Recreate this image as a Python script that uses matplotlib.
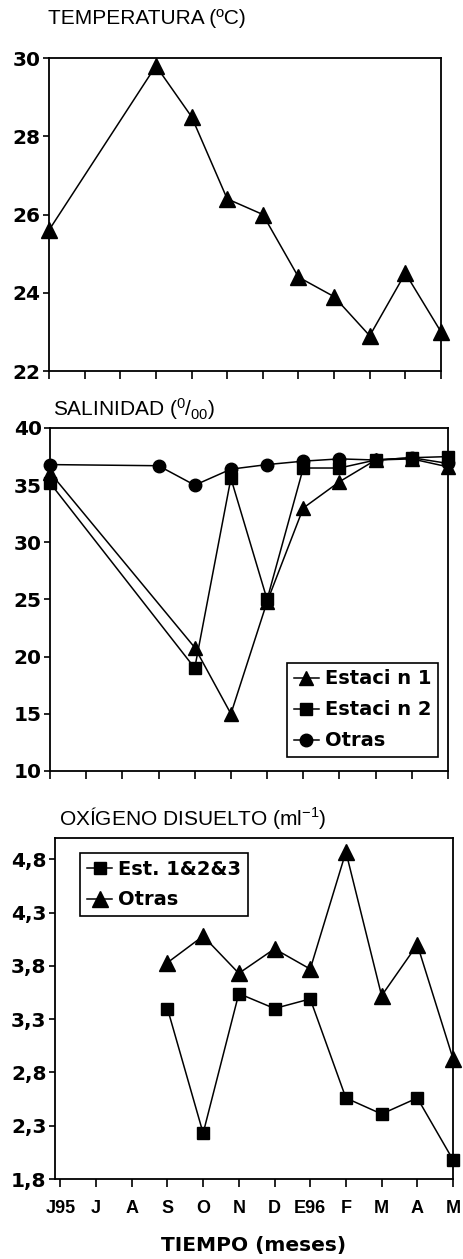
import matplotlib
matplotlib.use('Agg')
import matplotlib.pyplot as plt
from matplotlib import font_manager

months = ['J95', 'J', 'A', 'S', 'O', 'N', 'D', 'E96', 'F', 'M', 'A', 'M']

# temperatura
temp_x = [0, 3, 4, 5, 6, 7, 8, 9, 10, 11]
temp = [25.6, 29.8, 28.5, 26.4, 26.0, 24.4, 23.9, 22.9, 24.5, 23.0]
temp_ticks = [22, 24, 26, 28, 30]

# salinidad
sal_x = [0, 4, 5, 6, 7, 8, 9, 10, 11]
sal_est1 = [36.1, 20.8, 15.0, 24.8, 33.0, 35.3, 37.2, 37.3, 36.6]
sal_est2 = [35.2, 19.0, 35.6, 25.0, 36.5, 36.5, 37.2, 37.4, 37.5]
sal_otras_x = [0, 3, 4, 5, 6, 7, 8, 9, 10, 11]
sal_otras = [36.8, 36.7, 35.0, 36.4, 36.8, 37.1, 37.3, 37.2, 37.4, 36.9]
sal_ticks = [10, 15, 20, 25, 30, 35, 40]

# oxigeno
oxi_x = [3, 4, 5, 6, 7, 8, 9, 10, 11]
oxi_est = [3.40, 2.23, 3.54, 3.40, 3.49, 2.56, 2.41, 2.56, 1.98]
oxi_otras = [3.83, 4.08, 3.73, 3.96, 3.77, 4.87, 3.52, 4.00, 2.93]
oxi_ticks = [1.8, 2.3, 2.8, 3.3, 3.8, 4.3, 4.8]
oxi_labels = ['1,8', '2,3', '2,8', '3,3', '3,8', '4,3', '4,8']

names = {f.name for f in font_manager.fontManager.ttflist}
narrow = 'Liberation Sans Narrow' if 'Liberation Sans Narrow' in names else 'Liberation Sans'

W, H = 464, 1259
fig = plt.figure(figsize=(W / 100, H / 100), dpi=100)
fig.patch.set_facecolor('white')


def box(l, t, r, b):
    return [l / W, 1 - b / H, (r - l) / W, (b - t) / H]


ax1 = fig.add_axes(box(49, 58, 441, 371))
ax2 = fig.add_axes(box(50, 428, 448, 771))
ax3 = fig.add_axes(box(55, 838, 453, 1179))

line_kw = dict(color='black', lw=1.1, clip_on=False)

ax1.plot(temp_x, temp, marker='^', ms=11, **line_kw)

ax2.plot(sal_x, sal_est1, marker='^', ms=10, label='Estaci n 1', **line_kw)
ax2.plot(sal_x, sal_est2, marker='s', ms=8, label='Estaci n 2', **line_kw)
ax2.plot(sal_otras_x, sal_otras, marker='o', ms=9, label='Otras', **line_kw)

ax3.plot(oxi_x, oxi_est, marker='s', ms=9, label='Est. 1&2&3', **line_kw)
ax3.plot(oxi_x, oxi_otras, marker='^', ms=11, label='Otras', **line_kw)

ax1.set_ylim(22, 30)
ax1.set_yticks(temp_ticks)
ax2.set_ylim(10, 40)
ax2.set_yticks(sal_ticks)
ax3.set_ylim(1.8, 5.0)
ax3.set_yticks(oxi_ticks, oxi_labels)

for ax in (ax1, ax2, ax3):
    ax.set_xticks(range(len(months)))
    for s in ax.spines.values():
        s.set_linewidth(1.3)
        s.set_color('black')
    ax.tick_params(axis='x', direction='out', length=6, width=1.2, labelbottom=False)
    ax.tick_params(axis='y', direction='out', length=4, width=1.2, pad=2)
    for lab in ax.get_yticklabels():
        lab.set_fontfamily('DejaVu Sans')
        lab.set_fontweight('bold')
        lab.set_fontsize(14.5)

ax1.set_xlim(0, 11)
ax2.set_xlim(0, 11)
ax3.set_xlim(-0.15, 11)

ax3.tick_params(axis='x', labelbottom=True, pad=9)
ax3.set_xticklabels(months, fontfamily=narrow, fontweight='bold', fontsize=13)
ax3.set_xlabel('TIEMPO (meses)', fontfamily='DejaVu Sans', fontweight='bold',
               fontsize=14.5, labelpad=14)

leg_kw = dict(frameon=True, fancybox=False, edgecolor='black', borderaxespad=0,
              handlelength=1.3, handletextpad=0.3, borderpad=0.35,
              prop={'family': 'DejaVu Sans', 'weight': 'bold', 'size': 14})
l2 = ax2.legend(loc='lower right', bbox_to_anchor=(0.975, 0.04), labelspacing=0.62, **leg_kw)
l3 = ax3.legend(loc='upper left', bbox_to_anchor=(0.063, 0.956), labelspacing=0.6, **leg_kw)
for lg in (l2, l3):
    lg.get_frame().set_linewidth(1.2)
    lg.get_frame().set_alpha(1)

title_kw = dict(fontfamily=narrow, fontsize=15, va='center', ha='left')
fig.text(48 / W, 1 - 19 / H, 'TEMPERATURA (ºC)', **title_kw)
fig.text(53 / W, 1 - 409 / H, r'SALINIDAD ($\mathregular{^{0}/_{00}}$)', **title_kw)
fig.text(59 / W, 1 - 818 / H, r'OXÍGENO DISUELTO (ml$\mathregular{^{-1}}$)', **title_kw)

fig.savefig('out.png', dpi=100)
